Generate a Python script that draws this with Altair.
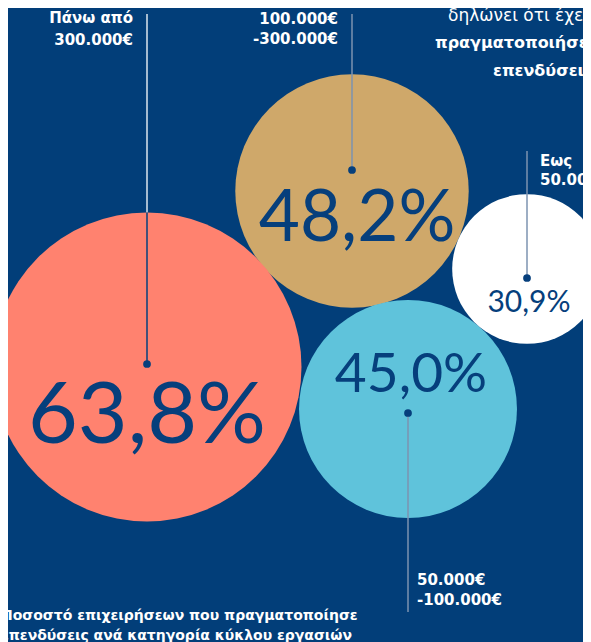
import math
import altair as alt
import pandas as pd

# ---------------- data ----------------
categories = ["Πάνω από 300.000€", "100.000€ -300.000€", "50.000€ -100.000€", "Εως 50.000€"]
values = [63.8, 48.2, 45.0, 30.9]
value_labels = ["63,8%", "48,2%", "45,0%", "30,9%"]
range_line1 = ["Πάνω από", "100.000€", "50.000€", "Εως"]
range_line2 = ["300.000€", "-300.000€", "-100.000€", "50.000€"]
title_left = ["Ποσοστό επιχειρήσεων που πραγματοποίησε",
              "επενδύσεις ανά κατηγορία κύκλου εργασιών"]
title_right = ["δηλώνει ότι έχει", "πραγματοποιήσει", "επενδύσεις"]

# ---------------- layout (reference pixel coordinates) ----------------
W, H = 583, 642          # visible page area (right 8px is page margin)
M = 8
center_x = [147, 352, 408, 527]
center_y = [367, 191, 409, 269]
dot_x = [147, 352, 408, 527]
dot_y = [364, 170, 413, 278]
line_top = [14, 14, 413, 151]
line_bot = [364, 170, 612, 278]
num_x = [147, 357, 411, 529]
num_y = [443, 241, 392, 312]
num_size = [86, 71, 55, 30]
lab_x = [133, 338, 417, 540]
lab_y1 = [23, 24, 585, 166]
lab_y2 = [45, 44, 605, 185]
lab_align = ["right", "right", "left", "left"]

# ---------------- style ----------------
BG = "#023E79"
NAVY = "#063F7C"
colors = ["#FF826F", "#CFA86A", "#5FC3DB", "#FFFFFF"]
LINE = "#7C93B0"
R_MAX = 154.5

bubbles = pd.DataFrame({
    "cat": categories, "value": values, "label": value_labels,
    "cx": center_x, "cy": center_y, "color": colors,
    "dx": dot_x, "dy": dot_y, "lt": line_top, "lb": line_bot,
    "nx": num_x, "ny": num_y, "ns": num_size,
})
order = [1, 2, 3, 0]  # draw gold, blue, white, salmon
bubbles_draw = bubbles.iloc[order].reset_index(drop=True)
bubbles_draw["ord"] = range(len(bubbles_draw))

xs = alt.Scale(domain=[M, W], range=[0, W - M], nice=False, zero=False)
ys = alt.Scale(domain=[M, H], range=[0, H - M], nice=False, zero=False)
X = lambda f: alt.X(f, type="quantitative", scale=xs, axis=None)
Y = lambda f: alt.Y(f, type="quantitative", scale=ys, axis=None)

# Vega circle: diameter = sqrt(size)
circles = alt.Chart(bubbles_draw).mark_circle(opacity=1).encode(
    x=X("cx"), y=Y("cy"),
    size=alt.Size("value:Q", scale=alt.Scale(type="pow", exponent=2, domain=[0, max(values)],
                                             range=[0, (2 * R_MAX) ** 2]), legend=None),
    color=alt.Color("color:N", scale=None),
    order=alt.Order("ord:Q"),
)

# leader lines
lines_df = bubbles.copy()
lines_df["ctop"] = [cy - R_MAX * v / max(values) for cy, v in zip(center_y, values)]
salmon = lines_df.iloc[[0]]
others = lines_df.iloc[1:]

rule_salmon_out = alt.Chart(salmon).mark_rule(color="#FFFFFF", strokeWidth=1.3).encode(
    x=X("dx"), y=Y("lt"), y2="ctop")
rule_salmon_in = alt.Chart(salmon).mark_rule(color=NAVY, strokeWidth=1.5).encode(
    x=X("dx"), y=Y("ctop"), y2="lb")
rule_others = alt.Chart(others).mark_rule(color=LINE, strokeWidth=1.5).encode(
    x=X("dx"), y=Y("lt"), y2="lb")

dots = alt.Chart(bubbles).mark_circle(color=NAVY, opacity=1, size=60).encode(
    x=X("dx"), y=Y("dy"))

numbers = alt.Chart(bubbles).mark_text(
    color=NAVY, font="Lato", fontWeight=400, align="center", baseline="alphabetic"
).encode(x=X("nx"), y=Y("ny"), text="label:N",
         size=alt.Size("ns:Q", scale=None, legend=None))

# range labels
lab_rows = []
for i in range(len(categories)):
    lab_rows.append({"t": range_line1[i], "x": lab_x[i], "y": lab_y1[i], "a": lab_align[i]})
    lab_rows.append({"t": range_line2[i], "x": lab_x[i], "y": lab_y2[i], "a": lab_align[i]})
lab_df = pd.DataFrame(lab_rows)
labels_r = alt.Chart(lab_df[lab_df.a == "right"]).mark_text(
    color="#FFFFFF", font="DejaVu Sans", fontWeight="bold", fontSize=15,
    align="right", baseline="alphabetic").encode(x=X("x"), y=Y("y"), text="t:N")
labels_l = alt.Chart(lab_df[lab_df.a == "left"]).mark_text(
    color="#FFFFFF", font="DejaVu Sans", fontWeight="bold", fontSize=15,
    align="left", baseline="alphabetic").encode(x=X("x"), y=Y("y"), text="t:N")

# titles
tl_df = pd.DataFrame({"t": title_left, "x": [1, 1], "y": [620, 640]})
t_left = alt.Chart(tl_df).mark_text(
    color="#FFFFFF", font="DejaVu Sans", fontWeight="bold", fontSize=14,
    align="left", baseline="alphabetic").encode(x=X("x"), y=Y("y"), text="t:N")

tr_df = pd.DataFrame({"t": title_right, "x": [448, 435, 493], "y": [21, 48, 76]})
t_r1 = alt.Chart(tr_df.iloc[[0]]).mark_text(
    color="#FFFFFF", font="DejaVu Sans", fontWeight="normal", fontSize=17,
    align="left", baseline="alphabetic").encode(x=X("x"), y=Y("y"), text="t:N")
t_r2 = alt.Chart(tr_df.iloc[1:]).mark_text(
    color="#FFFFFF", font="DejaVu Sans", fontWeight="bold", fontSize=16,
    align="left", baseline="alphabetic").encode(x=X("x"), y=Y("y"), text="t:N")

chart = alt.layer(
    circles, rule_salmon_out, rule_salmon_in, rule_others, dots, numbers,
    labels_r, labels_l, t_left, t_r1, t_r2
).properties(
    width=W - M, height=H - M,
    autosize=alt.AutoSizeParams(type="none"), padding=0, background=BG,
).configure_view(stroke=None)

chart.save("out.html", embed_options={"renderer": "svg", "actions": False})
